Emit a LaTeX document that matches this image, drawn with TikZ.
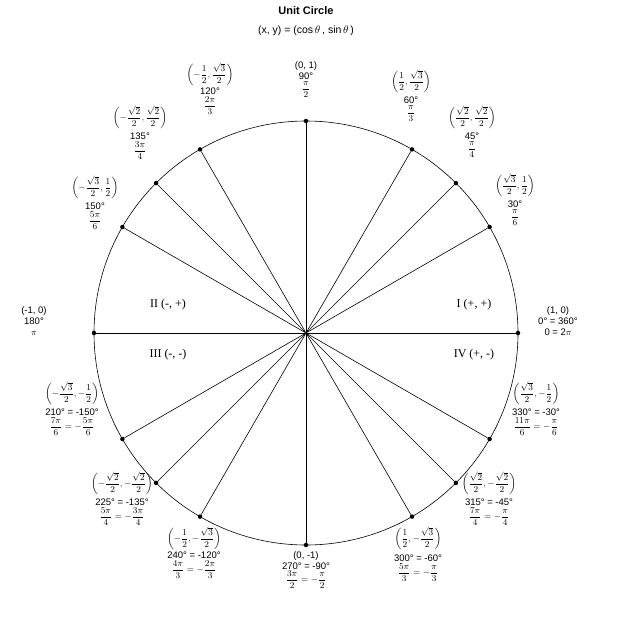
\documentclass[tikz,border=0pt]{standalone}
\usepackage{amsmath}
\usepackage{fontspec}
\setmainfont{Liberation Sans}
\newfontfamily\qfont{Liberation Serif}
\usetikzlibrary{calc}
\newcommand{\pr}[2]{$\left(#1,#2\right)$}
\newcommand{\fr}[2]{\dfrac{#1}{#2}}
\begin{document}
\begin{tikzpicture}[x=1pt,y=-1pt,
  lab/.style={align=center,anchor=north,inner sep=0pt,font=\fontsize{9.5}{11}\selectfont},
  quad/.style={font=\qfont\fontsize{12}{14}\selectfont,inner sep=0pt},
  ray/.style={line width=0.6pt},
  dot/.style={circle,fill=black,inner sep=0pt,minimum size=4.5pt}]
\useasboundingbox (0,0) rectangle (640,616);
\coordinate (O) at (306,333);
\draw[line width=0.6pt] (O) circle (212);
\foreach \a/\n in {0/p0,30/p30,45/p45,60/p60,90/p90,120/p120,135/p135,150/p150,180/p180,210/p210,225/p225,240/p240,270/p270,300/p300,315/p315,330/p330}{
  \node[dot] (\n) at ($(O)+({212*cos(\a)},{-212*sin(\a)})$) {};
}
\draw[ray] (p0) -- (p180);
\draw[ray] (p90) -- (p270);
\draw[ray] (p30) -- (p210);
\draw[ray] (p45) -- (p225);
\draw[ray] (p60) -- (p240);
\draw[ray] (p120) -- (p300);
\draw[ray] (p135) -- (p315);
\draw[ray] (p150) -- (p330);
% title
\node[font=\bfseries\fontsize{11}{13}\selectfont] (t1) at (306,11) {Unit Circle};
\node[font=\fontsize{10.5}{13}\selectfont] (t2) at (306,31) {(x, y) = (cos\,$\theta$\,, sin\,$\theta$\,)};
% quadrants
\node[quad] (q1) at (474,305) {I (+, +)};
\node[quad] (q2) at (168,305) {II (-, +)};
\node[quad] (q3) at (168,355) {III (-, -)};
\node[quad] (q4) at (474,355) {IV (+, -)};
% labels
\node[lab] (l90) at (306,61) {(0, 1)\\90\textdegree\\[1pt] $\fr{\pi}{2}$};
\node[lab] (l60) at (411,70) {\pr{\fr12}{\fr{\sqrt3}2}\\[3pt]60\textdegree\\[1pt] $\fr{\pi}{3}$};
\node[lab] (l45) at (472,106) {\pr{\fr{\sqrt2}2}{\fr{\sqrt2}2}\\[3pt]45\textdegree\\[1pt] $\fr{\pi}{4}$};
\node[lab] (l30) at (515,174) {\pr{\fr{\sqrt3}2}{\fr12}\\[3pt]30\textdegree\\[1pt] $\fr{\pi}{6}$};
\node[lab] (l0) at (558,306) {(1, 0)\\0\textdegree\ = 360\textdegree\\0 = 2$\pi$};
\node[lab] (l180) at (34,306) {(-1, 0)\\180\textdegree\\$\pi$};
\node[lab] (l150) at (95,176) {\pr{-\fr{\sqrt3}2}{\fr12}\\[3pt]150\textdegree\\[1pt] $\fr{5\pi}{6}$};
\node[lab] (l135) at (140,106) {\pr{-\fr{\sqrt2}2}{\fr{\sqrt2}2}\\[3pt]135\textdegree\\[1pt] $\fr{3\pi}{4}$};
\node[lab] (l120) at (210,63) {\pr{-\fr12}{\fr{\sqrt3}2}\\[1pt]120\textdegree\\[1pt] $\fr{2\pi}{3}$};
\node[lab] (l210) at (72,382) {\pr{-\fr{\sqrt3}2}{-\fr12}\\[3pt]210\textdegree\ = -150\textdegree\\[1pt] $\fr{7\pi}{6}=-\fr{5\pi}{6}$};
\node[lab] (l225) at (122,472) {\pr{-\fr{\sqrt2}2}{-\fr{\sqrt2}2}\\[3pt]225\textdegree\ = -135\textdegree\\[1pt] $\fr{5\pi}{4}=-\fr{3\pi}{4}$};
\node[lab] (l240) at (194,527) {\pr{-\fr12}{-\fr{\sqrt3}2}\\[1pt]240\textdegree\ = -120\textdegree\\[1pt] $\fr{4\pi}{3}=-\fr{2\pi}{3}$};
\node[lab] (l270) at (306,551) {(0, -1)\\270\textdegree\ = -90\textdegree\\[1pt] $\fr{3\pi}{2}=-\fr{\pi}{2}$};
\node[lab] (l300) at (418,527) {\pr{\fr12}{-\fr{\sqrt3}2}\\[4pt]300\textdegree\ = -60\textdegree\\[1pt] $\fr{5\pi}{3}=-\fr{\pi}{3}$};
\node[lab] (l315) at (489,472) {\pr{\fr{\sqrt2}2}{-\fr{\sqrt2}2}\\[3pt]315\textdegree\ = -45\textdegree\\[1pt] $\fr{7\pi}{4}=-\fr{\pi}{4}$};
\node[lab] (l330) at (536,382) {\pr{\fr{\sqrt3}2}{-\fr12}\\[3pt]330\textdegree\ = -30\textdegree\\[1pt] $\fr{11\pi}{6}=-\fr{\pi}{6}$};
\end{tikzpicture}
\end{document}
